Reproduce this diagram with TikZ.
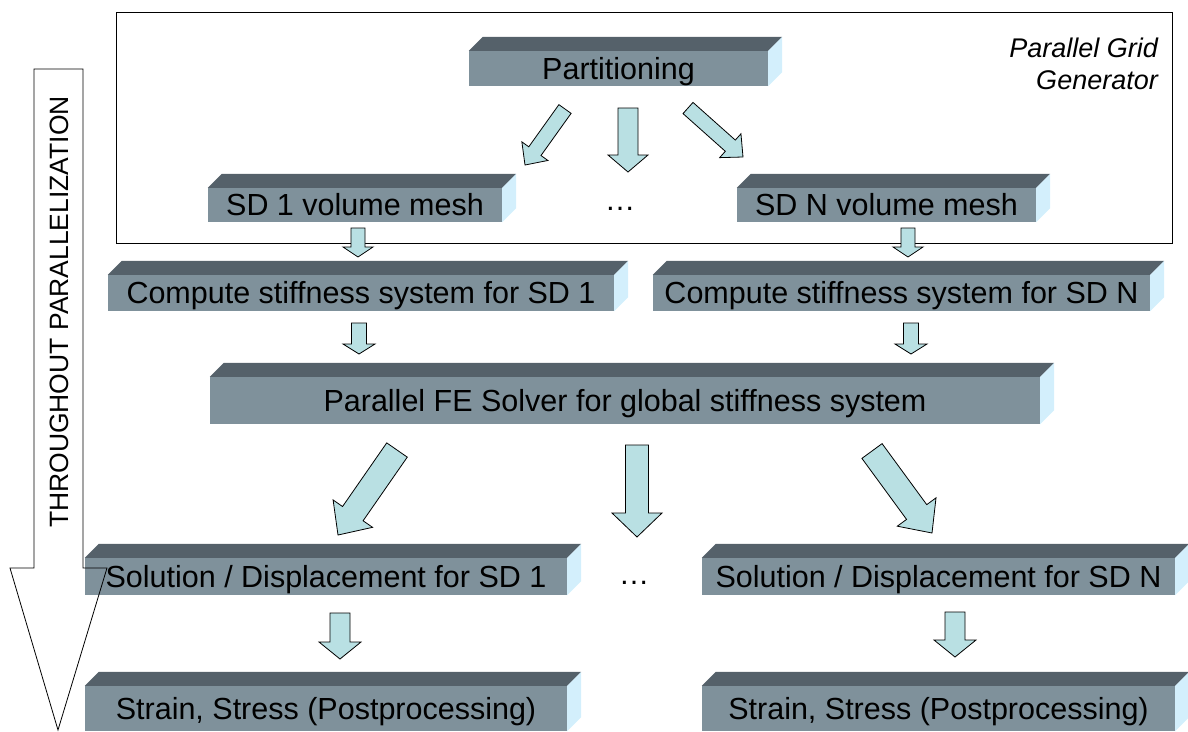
\documentclass[tikz,border=0pt]{standalone}
\usepackage{fontspec}
\setmainfont{Liberation Sans}
\usetikzlibrary{calc}

\definecolor{slabfront}{RGB}{127,145,155}
\definecolor{slabtop}{RGB}{85,97,106}
\definecolor{slabside}{RGB}{211,239,252}
\definecolor{arrowfill}{RGB}{185,224,227}

\tikzset{
  slab/.style={fill=slabfront, inner sep=0pt, text=black,
    text height=21pt, text depth=0pt,
    font=\fontsize{30.5}{36}\selectfont},
  slabtopface/.style={fill=slabtop},
  slabsideface/.style={fill=slabside},
  flowarrow/.style={fill=arrowfill, draw=black, line width=0.8pt, line join=miter},
  bigarrow/.style={draw=black, line width=0.8pt, line join=miter},
  frame/.style={draw=black, line width=0.8pt},
  plain/.style={inner sep=0pt, font=\fontsize{30.5}{36}\selectfont},
}

% extruded top and right faces of a slab node
\newcommand\slabfaces[1]{%
  \fill[slabtopface] (#1.north west) -- ++(14,-14) -- ($(#1.north east)+(14,-14)$)
    -- (#1.north east) -- cycle;
  \fill[slabsideface] (#1.north east) -- ++(14,-14) -- ($(#1.south east)+(14,-14)$)
    -- (#1.south east) -- cycle;}

% slab: name, centre x, centre y, width, height, text
\newcommand\slabbox[6]{%
  \node[slab, minimum width=#4pt, minimum height=#5pt] (#1) at (#2,#3) {#6};
  \slabfaces{#1}}

% block arrow: tail, tip, half shaft width, half head width, head length
\newcommand\blockarrow[5]{%
  \path ($(#2)!#5!(#1)$) coordinate (ba-h);
  \draw[flowarrow] ($(#1)!#3!90:(#2)$) -- ($(ba-h)!#3!90:(#2)$)
    -- ($(ba-h)!#4!90:(#2)$) -- (#2) -- ($(ba-h)!#4!-90:(#2)$)
    -- ($(ba-h)!#3!-90:(#2)$) -- ($(#1)!#3!-90:(#2)$) -- cycle;}

\begin{document}
\begin{tikzpicture}[x=1pt, y=-1pt]
\useasboundingbox (0,0) rectangle (1188,731);
\clip (0,0) rectangle (1188,731);

% grid generator frame
\draw[frame] (116,12) rectangle (1172,243);
\node[anchor=east, align=right, inner sep=0pt,
  font=\itshape\fontsize{27}{32}\selectfont] (pgg) at (1158,64)
  {Parallel Grid\\Generator};

% slabs
\slabbox{part}{618.5}{68.5}{299}{35}{Partitioning}
\slabbox{vm1}{355}{205}{294}{34}{SD 1 volume mesh}
\slabbox{vmN}{886.5}{205}{299}{34}{SD N volume mesh}
\slabbox{cs1}{361}{293}{506}{36}{Compute stiffness system for SD 1}
\slabbox{csN}{901.5}{293}{497}{36}{Compute stiffness system for SD N}
\slabbox{fe}{625}{400.5}{830}{47}{Parallel FE Solver for global stiffness system}
\slabbox{sol1}{326}{576.5}{482}{37}{Solution / Displacement for SD 1}
\slabbox{solN}{938.5}{576.5}{473}{37}{Solution / Displacement for SD N}
\slabbox{st1}{326}{708.5}{482}{45}{Strain, Stress (Postprocessing)}
\slabbox{stN}{938.5}{708.5}{473}{45}{Strain, Stress (Postprocessing)}

\node[plain] (dotsA) at (620,209) {…};
\node[plain] (dotsB) at (634,583) {…};

% arrow end points
\coordinate (pA0) at (565,109);  \coordinate (pA1) at (525,165);
\coordinate (pB0) at (628,108);  \coordinate (pB1) at (628,172);
\coordinate (pC0) at (688,108);  \coordinate (pC1) at (743,157);
\coordinate (m10) at (358,228);  \coordinate (m11) at (358,257);
\coordinate (mN0) at (908,228);  \coordinate (mN1) at (908,257);
\coordinate (c10) at (359,323);  \coordinate (c11) at (359,354);
\coordinate (cN0) at (911,323);  \coordinate (cN1) at (911,354);
\coordinate (fA0) at (397,450);  \coordinate (fA1) at (338,535);
\coordinate (fB0) at (637,445);  \coordinate (fB1) at (637,537);
\coordinate (fC0) at (872,451);  \coordinate (fC1) at (932,533);
\coordinate (s10) at (340,613);  \coordinate (s11) at (340,659);
\coordinate (sN0) at (955,612);  \coordinate (sN1) at (955,657);

\blockarrow{pA0}{pA1}{7.5pt}{16pt}{17pt}
\blockarrow{pB0}{pB1}{10pt}{20pt}{17pt}
\blockarrow{pC0}{pC1}{7.5pt}{16pt}{17pt}
\blockarrow{m10}{m11}{7pt}{15pt}{10pt}
\blockarrow{mN0}{mN1}{7pt}{15pt}{10pt}
\blockarrow{c10}{c11}{7.5pt}{16pt}{10pt}
\blockarrow{cN0}{cN1}{7.5pt}{16pt}{10pt}
\blockarrow{fA0}{fA1}{12.5pt}{24pt}{26pt}
\blockarrow{fB0}{fB1}{11.5pt}{25pt}{24pt}
\blockarrow{fC0}{fC1}{12.5pt}{24pt}{26pt}
\blockarrow{s10}{s11}{10pt}{21pt}{17pt}
\blockarrow{sN0}{sN1}{10pt}{21pt}{17pt}

% overall direction arrow
\draw[bigarrow] (34,69) -- (34,568) -- (10,568) -- (58,730) -- (107,568)
  -- (83,568) -- (83,69) -- cycle;
\node[rotate=90, inner sep=0pt, font=\fontsize{26.5}{32}\selectfont] (dir)
  at (59,312) {THROUGHOUT PARALLELIZATION};
\end{tikzpicture}
\end{document}
